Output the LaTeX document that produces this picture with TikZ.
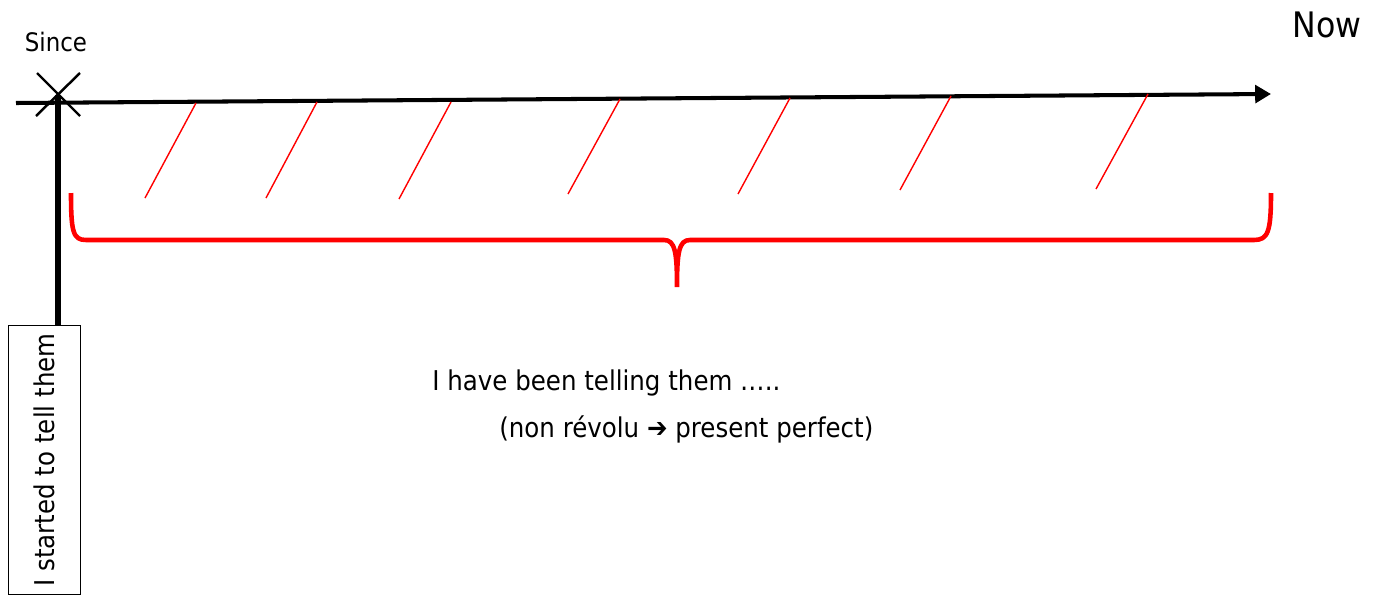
\documentclass[tikz,border=0pt]{standalone}
\usepackage{fontspec}
\setmainfont[FakeStretch=0.9]{DejaVu Sans}
\usetikzlibrary{arrows.meta,calc}
\definecolor{markred}{RGB}{255,0,0}

\begin{document}
\begin{tikzpicture}[x=0.02cm, y=-0.02cm, every node/.style={font=\fontsize{15.5}{18}\selectfont, inner sep=0pt}]
\useasboundingbox (0,0) rectangle (1379,595);

% TIMELINE
\coordinate (tstart) at (16,103);
\coordinate (tend) at (1271,94);
\draw[line width=2.3pt, -{Triangle[length=9pt,width=10pt]}] (tstart) -- (tend);

% SINCE MARK
\coordinate (since) at (58,95);
\draw[line width=1.4pt] (since) ++(-21,-22) -- ++(43,43);
\draw[line width=1.4pt] (since) ++(22,-22) -- ++(-44,43);
\node (sincelbl) at (56,42) {\fontsize{14.5}{17}\selectfont Since};
\node (nowlbl) at (1327,25) {\fontsize{20}{24}\selectfont Now};

% START BOX
\node[draw, line width=0.6pt, rotate=90, minimum width=153.5pt, minimum height=41.4pt] (startbox) at (44.5,460) {I started to tell them};
\draw[line width=3pt] (since) -- (since |- startbox.east);

% HATCHING
\foreach \xt/\yt/\xb/\yb in {196/103/145/198, 317/102/266/198, 451/102/399/199, 620/99/568/194, 790/98/738/194, 951/96/900/190, 1148/94/1096/189}
  \draw[markred, line width=0.8pt] (\xt,\yt) -- (\xb,\yb);

% BRACE
\draw[markred, line width=2.6pt] (71,193) .. controls (71,232) and (73,240) .. (86,240) -- (664,240) .. controls (675,240) and (677,252) .. (677,287) .. controls (677,252) and (679,240) .. (690,240) -- (1254,240) .. controls (1268,240) and (1271,232) .. (1271,193);

% TEXT
\node[anchor=base west] (havebeen) at (432,390) {I have been telling them …..};
\node[anchor=base west] (nonrevolu) at (499,437) {(non révolu ➔ present perfect)};

\end{tikzpicture}
\end{document}
